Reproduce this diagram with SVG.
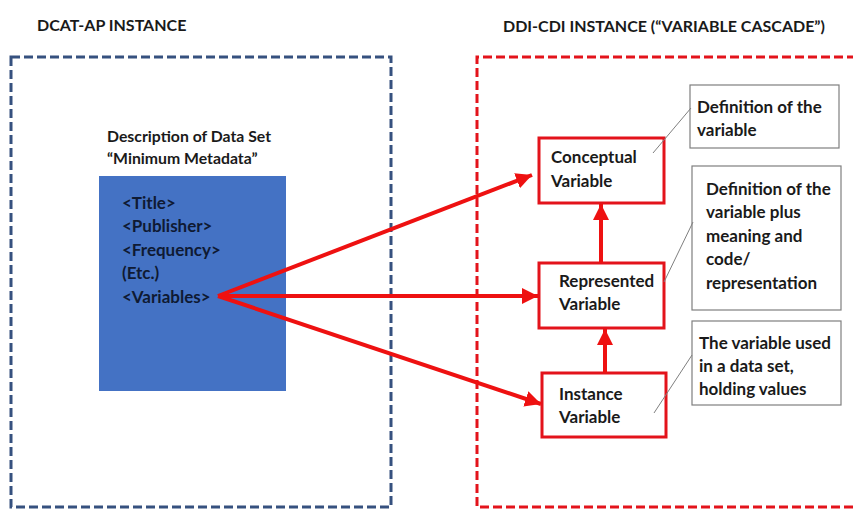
<svg xmlns="http://www.w3.org/2000/svg" width="853" height="524" viewBox="0 0 853 524">
<defs>
<style>
.t{font-family:Lato,"Liberation Sans",sans-serif;font-weight:bold;fill:#1a1a1a}
.h{font-size:16px}
.d{font-size:15.8px}
.n{font-size:17px}
.b{font-size:17px;fill:#0f1a33}
.frameB{fill:none;stroke:#36517f;stroke-width:3;stroke-dasharray:9 4}
.frameR{fill:none;stroke:#e3131b;stroke-width:3;stroke-dasharray:9 4}
.node{fill:#fff;stroke:#e3131b;stroke-width:3}
.note{fill:#fff;stroke:#7f7f7f;stroke-width:1.2}
.lead{stroke:#7f7f7f;stroke-width:1;fill:none}
.arr{stroke:#ee1111;stroke-width:4;fill:none;marker-end:url(#ah)}
</style>
<marker id="ah" markerUnits="userSpaceOnUse" markerWidth="18" markerHeight="16" refX="16" refY="8" orient="auto">
<path d="M0,0 L16,8 L0,16 Z" fill="#ee1111"/>
</marker>
</defs>
<rect width="853" height="524" fill="#fff"/>
<text class="t h" x="37" y="31">DCAT-AP INSTANCE</text>
<text class="t h" x="503" y="32">DDI-CDI INSTANCE (“VARIABLE CASCADE”)</text>
<rect class="frameB" x="11" y="57" width="380" height="450"/>
<path class="frameR" d="M856,57 H477 V507 H856"/>
<g id="dataset">
<text class="t d" x="107" y="142">Description of Data Set</text>
<text class="t d" x="107" y="164">“Minimum Metadata”</text>
<rect x="99" y="176" width="187" height="215" fill="#4472c4"/>
<text class="t b" x="122" y="209">&lt;Title&gt;</text>
<text class="t b" x="122" y="232">&lt;Publisher&gt;</text>
<text class="t b" x="122" y="256">&lt;Frequency&gt;</text>
<text class="t b" x="122" y="279">(Etc.)</text>
<text class="t b" x="122" y="303">&lt;Variables&gt;</text>
</g>
<g id="conceptual">
<rect class="node" x="539" y="138" width="125" height="65"/>
<text class="t n" x="551" y="163">Conceptual</text>
<text class="t n" x="551" y="187">Variable</text>
</g>
<g id="represented">
<rect class="node" x="539" y="263" width="125" height="65"/>
<text class="t n" x="559" y="287">Represented</text>
<text class="t n" x="559" y="310">Variable</text>
</g>
<g id="instance">
<rect class="node" x="542" y="373" width="124" height="64"/>
<text class="t n" x="559" y="400">Instance</text>
<text class="t n" x="559" y="423">Variable</text>
</g>
<g id="note1">
<rect class="note" x="690" y="85" width="149" height="63"/>
<text class="t n" x="697" y="113">Definition of the</text>
<text class="t n" x="697" y="136">variable</text>
</g>
<g id="note2">
<rect class="note" x="692" y="166" width="149" height="144"/>
<text class="t n" x="706" y="195">Definition of the</text>
<text class="t n" x="706" y="218">variable plus</text>
<text class="t n" x="706" y="242">meaning and</text>
<text class="t n" x="706" y="265">code/</text>
<text class="t n" x="706" y="289">representation</text>
</g>
<g id="note3">
<rect class="note" x="692" y="321" width="149" height="84"/>
<text class="t n" x="699" y="349">The variable used</text>
<text class="t n" x="699" y="372">in a data set,</text>
<text class="t n" x="699" y="395">holding values</text>
</g>
<g id="connectors">
<path class="lead" d="M691,108 L653,153"/>
<path class="lead" d="M693,222 L664,282"/>
<path class="lead" d="M692,355 L654,413"/>
<path class="arr" d="M218,296 L532,175"/>
<path class="arr" d="M218,296 L538,296"/>
<path class="arr" d="M218,296 L541,404"/>
<path class="arr" d="M601,263 L601,204"/>
<path class="arr" d="M605,373 L605,329"/>
</g>
</svg>
